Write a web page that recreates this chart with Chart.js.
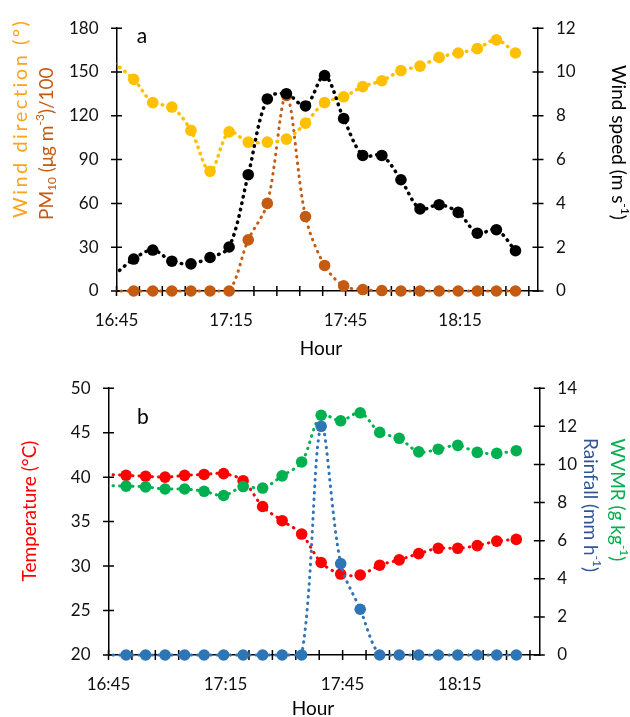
<!DOCTYPE html>
<html>
<head>
<meta charset="utf-8">
<script src="https://cdn.jsdelivr.net/npm/chart.js@4.4.0/dist/chart.umd.min.js"></script>
<style>
  html, body { margin: 0; padding: 0; background: #fff; }
  #wrap { position: relative; width: 630px; height: 717px; }
  #wrap canvas { position: absolute; left: 0; }
  #top { top: 0; }
  #bottom { top: 360px; }
</style>
</head>
<body>
<div id="wrap">
  <canvas id="top" width="630" height="360"></canvas>
  <canvas id="bottom" width="630" height="357"></canvas>
</div>
<script>
// sample times (first one is a lead-in just before the axis start)
const times = ['16:44:30', '16:49:30', '16:54:30', '16:59:30', '17:04:30', '17:09:30', '17:14:30',
  '17:19:30', '17:24:30', '17:29:30', '17:34:30', '17:39:30', '17:44:30', '17:49:30', '17:54:30',
  '17:59:30', '18:04:30', '18:09:30', '18:14:30', '18:19:30', '18:24:30', '18:29:30'];
const hourLabels = ['16:45', '17:15', '17:45', '18:15'];

// panel a
const windDir = [156, 145, 129, 126, 110, 82, 109, 102, 102, 104, 115, 129, 133, 140, 144, 151, 154, 160, 163, 166, 172, 163];
const pm10 = [0, 0, 0, 0, 0, 0, 0, 35, 60, 134, 51, 17.5, 3.5, 1, 0.3, 0, 0, 0, 0, 0, 0, 0];
const windSpeed = [0.75, 1.46, 1.87, 1.36, 1.24, 1.53, 2.01, 5.31, 8.77, 9.01, 8.45, 9.84, 7.88, 6.19, 6.19, 5.08, 3.75, 3.94, 3.59, 2.64, 2.8, 1.84];

// panel b
const temperature = [40.3, 40.2, 40.1, 40.0, 40.2, 40.3, 40.4, 39.6, 36.7, 35.1, 33.6, 30.4, 29.1, 29.0, 30.1, 30.7, 31.4, 32.0, 32.0, 32.3, 32.8, 33.0];
const wvmr = [8.9, 8.86, 8.82, 8.71, 8.71, 8.59, 8.37, 8.84, 8.76, 9.4, 10.13, 12.58, 12.29, 12.71, 11.68, 11.37, 10.66, 10.8, 11.0, 10.63, 10.58, 10.72];
const rainfall = [0, 0, 0, 0, 0, 0, 0, 0, 0, 0, 0, 12, 4.8, 2.4, 0, 0, 0, 0, 0, 0, 0, 0];

const FONT = 'Lato, "Open Sans", sans-serif';
Chart.defaults.font.family = FONT;
Chart.defaults.font.size = 17;
Chart.defaults.color = '#111';

const t0 = 16 * 60 + 45;
const toMin = s => {
  const [h, m, sec] = s.split(':').map(Number);
  return h * 60 + m + sec / 60 - t0;
};
const xs = times.map(toMin);
const pts = arr => arr.map((v, i) => ({ x: xs[i], y: v }));

function series(label, values, color, axis, width) {
  return {
    label,
    data: pts(values),
    yAxisID: axis,
    borderColor: color,
    backgroundColor: color,
    borderWidth: width,
    borderDash: [0.5, 6],
    borderCapStyle: 'round',
    tension: 0.33,
    pointRadius: ctx => (ctx.dataIndex === 0 ? 0 : 5.8),
    pointBorderWidth: 0,
    clip: { left: 0, top: 12, right: 12, bottom: 12 }
  };
}

function xAxis(height) {
  return {
    type: 'linear',
    min: 0,
    max: 110.4,
    grid: { display: false, drawTicks: false },
    border: { display: true, color: '#000', width: 1.5 },
    afterBuildTicks: s => {
      const t = [];
      for (let v = 0; v <= 108; v += 6) t.push({ value: v });
      s.ticks = t;
    },
    ticks: {
      autoSkip: false,
      maxRotation: 0,
      padding: 19,
      callback: v => (v % 30 === 0 ? hourLabels[v / 30] : '')
    },
    afterFit: s => { s.height = height; }
  };
}

function yAxis(position, min, max, step, width) {
  return {
    type: 'linear',
    position,
    min,
    max,
    grid: { display: false, drawTicks: false },
    border: { display: true, color: '#000', width: 1.5 },
    ticks: { stepSize: step, padding: 18 },
    afterFit: s => { s.width = width; }
  };
}

// tick marks that cross the axis line
const crossTicks = {
  id: 'crossTicks',
  beforeDatasetsDraw(chart) {
    const { ctx, chartArea: a } = chart;
    ctx.save();
    ctx.strokeStyle = '#000';
    ctx.lineWidth = 1.5;
    ctx.beginPath();
    Object.values(chart.scales).forEach(s => {
      s.ticks.forEach(t => {
        const p = s.getPixelForValue(t.value);
        if (s.axis === 'x') {
          ctx.moveTo(p, a.bottom - 5);
          ctx.lineTo(p, a.bottom + 5);
        } else {
          const e = s.position === 'left' ? a.left : a.right;
          ctx.moveTo(e - 5.5, p);
          ctx.lineTo(e + 5.5, p);
        }
      });
    });
    ctx.stroke();
    ctx.restore();
  }
};

// axis titles with sub/superscripts
function drawRich(ctx, item) {
  const size = item.size || 19;
  const small = Math.round(size * 0.65);
  ctx.save();
  ctx.translate(item.x, item.y);
  ctx.rotate((item.angle || 0) * Math.PI / 180);
  ctx.fillStyle = item.color || '#000';
  ctx.textBaseline = item.baseline || 'middle';
  ctx.textAlign = 'left';
  if (item.spacing) ctx.letterSpacing = item.spacing + 'px';
  const widths = item.parts.map(([t, m]) => {
    ctx.font = (m ? small : size) + 'px ' + FONT;
    return ctx.measureText(t).width;
  });
  const total = widths.reduce((a, b) => a + b, 0);
  let cx = item.align === 'center' ? -total / 2 : 0;
  item.parts.forEach(([t, m], i) => {
    ctx.font = (m ? small : size) + 'px ' + FONT;
    const dy = m === 'sup' ? -size * 0.35 : m === 'sub' ? size * 0.25 : 0;
    ctx.fillText(t, cx, dy);
    cx += widths[i];
  });
  ctx.restore();
}

function titles(items) {
  return { id: 'titles', afterDraw(chart) { items.forEach(it => drawRich(chart.ctx, it)); } };
}

const common = {
  responsive: false,
  animation: false,
  events: [],
  plugins: { legend: { display: false }, tooltip: { enabled: false } }
};

new Chart(document.getElementById('top'), {
  type: 'line',
  data: {
    datasets: [
      series('Wind speed', windSpeed, '#000000', 'y1', 3.5),
      series('Wind direction', windDir, '#FFC000', 'y', 3.5),
      series('PM10', pm10, '#C55A11', 'y', 3)
    ]
  },
  options: {
    ...common,
    layout: { padding: { top: 17.3, left: 0, right: 0, bottom: 0 } },
    scales: {
      x: xAxis(69),
      y: yAxis('left', 0, 180, 30, 116.5),
      y1: yAxis('right', 0, 12, 2, 92)
    }
  },
  plugins: [crossTicks, titles([
    { parts: [['Wind direction (°)']], x: 21, y: 218, angle: -90, size: 20, spacing: 2.5, color: '#FFA31A' },
    { parts: [['PM'], ['10', 'sub'], [' (μg m'], ['-3', 'sup'], [')/100']], x: 47, y: 220, angle: -90, color: '#C55A11' },
    { parts: [['Wind speed (m s'], ['-1', 'sup'], [')']], x: 618, y: 65, angle: 90, color: '#000' },
    { parts: [['a']], x: 142, y: 43.3, size: 21, align: 'center', baseline: 'alphabetic' },
    { parts: [['Hour']], x: 321, y: 355, align: 'center', baseline: 'alphabetic' }
  ])]
});

new Chart(document.getElementById('bottom'), {
  type: 'line',
  data: {
    datasets: [
      series('Rainfall', rainfall, '#2E75B6', 'y1', 3),
      series('WVMR', wvmr, '#00B050', 'y1', 3),
      series('Temperature', temperature, '#FF0000', 'y', 3)
    ]
  },
  options: {
    ...common,
    layout: { padding: { top: 19, left: 0, right: 0, bottom: 0 } },
    scales: {
      x: xAxis(62),
      y: yAxis('left', 20, 50, 5, 108.5),
      y1: yAxis('right', 0, 14, 2, 90.7)
    }
  },
  plugins: [crossTicks, titles([
    { parts: [['Temperature (°C)']], x: 30, y: 151, angle: -90, align: 'center', color: '#FF0000' },
    { parts: [['WVMR (g kg'], ['-1', 'sup'], [')']], x: 617, y: 140, angle: 90, align: 'center', color: '#00B050' },
    { parts: [['Rainfall (mm h'], ['-1', 'sup'], [')']], x: 590, y: 145, angle: 90, align: 'center', color: '#2F5597' },
    { parts: [['b']], x: 143, y: 64.3, size: 21, align: 'center', baseline: 'alphabetic' },
    { parts: [['Hour']], x: 313, y: 355, align: 'center', baseline: 'alphabetic' }
  ])]
});
</script>
</body>
</html>
